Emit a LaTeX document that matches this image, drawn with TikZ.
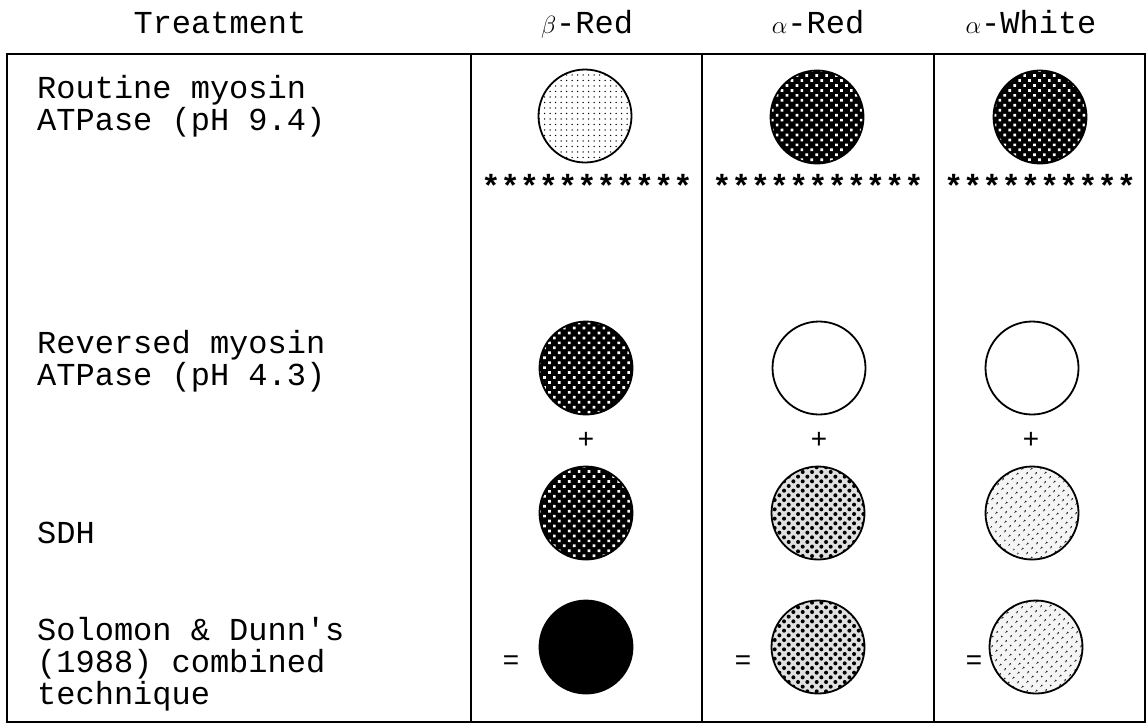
\documentclass[tikz,border=0pt]{standalone}
\usepackage{fontspec}
\setmainfont{Liberation Mono}
\usepackage{tikz}
\usetikzlibrary{patterns.meta}
\usetikzlibrary{positioning}

\tikzset{
  txt/.style={font=\fontsize{32}{32}\selectfont, inner sep=0pt, align=left, anchor=base west},
  hd/.style={font=\fontsize{32}{32}\selectfont, inner sep=0pt, anchor=base},
  stars/.style={font=\fontsize{32}{32}\selectfont\bfseries, inner sep=0pt, anchor=base},
  sign/.style={font=\fontsize{28}{28}\selectfont, inner sep=0pt},
  rule/.style={line width=1.3pt},
  disc/.style={circle, draw, line width=1.8pt, minimum size=93pt, inner sep=0pt},
  discopen/.style={disc, fill=white},
  discfaint/.style={disc, pattern={Dots[radius=0.75pt,distance=5.5pt]}},
  disclight/.style={disc, preaction={fill=black!4}, pattern={Dots[radius=1.1pt,distance=6.5pt,angle=45]}},
  discmid/.style={disc, preaction={fill=black!12}, pattern={Dots[radius=2pt,distance=6.6pt,angle=45]}},
  discdark/.style={disc, preaction={fill=black}, pattern={Dots[radius=1.9pt,distance=7pt,angle=45]}, pattern color=white},
  discsolid/.style={disc, fill=black},
}

\begin{document}
\begin{tikzpicture}[x=1pt,y=-1pt]
\useasboundingbox (0,0) rectangle (1147,724);
\draw[rule] (7,54) rectangle (1145,722);
\draw[rule] (471,54) -- (471,722);
\draw[rule] (702,54) -- (702,722);
\draw[rule] (934,54) -- (934,722);

\node[hd] (treat) at (220,33) {Treatment};
\node[hd] (hbr) at (587,33) {$\beta$-Red};
\node[hd] (har) at (818,33) {$\alpha$-Red};
\node[hd] (haw) at (1031,33) {$\alpha$-White};

\node[txt] (routine) at (37,130) {Routine myosin\\ATPase (pH 9.4)};
\node[txt] (reversed) at (37,385) {Reversed myosin\\ATPase (pH 4.3)};
\node[txt] (sdh) at (37,543) {SDH};
\node[txt] (combined) at (37,704) {Solomon \& Dunn\textquotesingle s\\(1988) combined\\technique};

\node[discfaint] (br1) at (585,116) {};
\node[discdark] (ar1) at (817,117) {};
\node[discdark] (aw1) at (1040,117) {};
\node[stars] (sbr) at (587,197) {***********};
\node[stars] (sar) at (818,197) {***********};
\node[stars] (saw) at (1040,197) {**********};

\node[discdark] (br2) at (586,368) {};
\node[discopen] (ar2) at (819,368) {};
\node[discopen] (aw2) at (1032,368) {};
\node[sign] (pbr) at (586,440) {+};
\node[sign] (par) at (819,440) {+};
\node[sign] (paw) at (1031,440) {+};

\node[discdark] (br3) at (586,513) {};
\node[discmid] (ar3) at (818,513) {};
\node[disclight] (aw3) at (1032,513) {};

\node[discsolid] (br4) at (586,647) {};
\node[discmid] (ar4) at (818,647) {};
\node[disclight] (aw4) at (1036,647) {};
\node[sign] (ebr) at (511,663) {=};
\node[sign] (ear) at (743,663) {=};
\node[sign] (eaw) at (974,663) {=};
\end{tikzpicture}
\end{document}
